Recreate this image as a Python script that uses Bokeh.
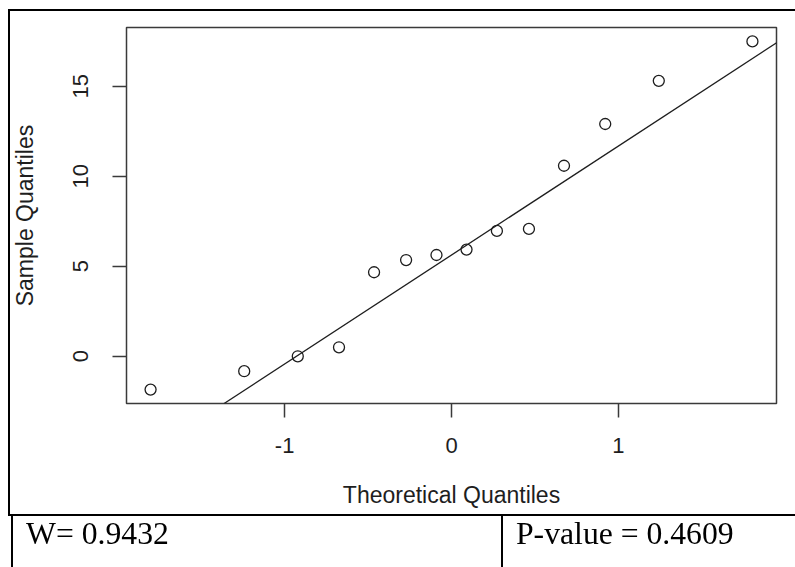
import numpy as np
from bokeh.plotting import figure
from bokeh.layouts import column
from bokeh.models import Range1d, FixedTicker, Slope, ColumnDataSource, Div
from bokeh.embed import file_html
from bokeh.resources import INLINE

# ---- data ----
theoretical = [-1.803, -1.242, -0.921, -0.674, -0.464, -0.272, -0.090,
               0.090, 0.272, 0.464, 0.674, 0.921, 1.242, 1.803]
sample = [-1.86, -0.84, -0.01, 0.49, 4.66, 5.34, 5.62,
          5.92, 6.96, 7.07, 10.58, 12.90, 15.30, 17.49]
x_ticks = [-1, 0, 1]
y_ticks = [0, 5, 10, 15]
x_label = "Theoretical Quantiles"
y_label = "Sample Quantiles"
w_text = "W= 0.9432"
p_text = "P-value = 0.4609"

# ---- derived: R-style qqline and 4% axis padding ----
q1, q3 = np.quantile(sample, [0.25, 0.75])
z = 0.6744897501960817
slope = (q3 - q1) / (2 * z)
intercept = q1 + slope * z

def padded(vals, f=0.04):
    lo, hi = min(vals), max(vals)
    d = (hi - lo) * f
    return lo - d, hi + d

xlo, xhi = padded(theoretical)
ylo, yhi = padded(sample)

INK = "#1e1e1e"
FRAME = "#3a3a3a"

p = figure(width=795, height=567, output_backend="svg", toolbar_location=None,
           x_range=Range1d(xlo, xhi), y_range=Range1d(ylo, yhi),
           min_border_left=126, min_border_right=19, min_border_top=27,
           min_border_bottom=164, margin=0)
p.background_fill_color = "white"
p.border_fill_color = "white"
p.outline_line_color = FRAME
p.outline_line_width = 1.5
p.xgrid.visible = False
p.ygrid.visible = False

for ax, ticks in ((p.xaxis[0], x_ticks), (p.yaxis[0], y_ticks)):
    ax.ticker = FixedTicker(ticks=ticks, minor_ticks=[])
    ax.major_label_overrides = {t: str(t) for t in ticks}
    ax.axis_line_color = None
    ax.major_tick_line_color = FRAME
    ax.major_tick_line_width = 1.5
    ax.major_tick_in = 0
    ax.major_tick_out = 14
    ax.minor_tick_out = 0
    ax.minor_tick_in = 0
    ax.major_label_text_font = "Liberation Sans"
    ax.major_label_text_font_size = "22px"
    ax.major_label_text_color = INK
    ax.axis_label_text_font = "Liberation Sans"
    ax.axis_label_text_font_size = "23px"
    ax.axis_label_text_font_style = "normal"
    ax.axis_label_text_color = INK

p.xaxis.axis_label = x_label
p.yaxis.axis_label = y_label
p.yaxis.major_label_orientation = "vertical"
p.xaxis.major_label_standoff = 20
p.yaxis.major_label_standoff = 24
p.xaxis.axis_label_standoff = 26
p.yaxis.axis_label_standoff = 33

src = ColumnDataSource(dict(x=theoretical, y=sample))
p.scatter(x="x", y="y", source=src, marker="circle", size=11,
          fill_color=None, line_color=INK, line_width=1.3)
p.add_layout(Slope(gradient=slope, y_intercept=intercept,
                   line_color=INK, line_width=1.3))

# ---- surrounding table, drawn as an HTML overlay in window pixels ----
def rule(l, t, w, h, color="black"):
    return (f'<div style="position:fixed;left:{l}px;top:{t}px;width:{w}px;'
            f'height:{h}px;background:{color};z-index:5;"></div>')

def cell_text(l, t, s):
    return (f'<div style="position:fixed;left:{l}px;top:{t}px;z-index:5;'
            "font-family:'Liberation Serif';font-size:31.7px;line-height:32px;"
            f'color:black;white-space:nowrap;">{s}</div>')

overlay_html = (
    rule(8, 9, 787, 2)        # top border
    + rule(8, 9, 2, 507)      # left border of the plot cell
    + rule(8, 514, 787, 2)    # row separator
    + rule(11, 514, 2, 53)    # left border of the lower row
    + rule(501, 514, 2, 53)   # column divider
    + rule(792, 11, 3, 503, "white")  # keep the right edge of the cell open
    + cell_text(26, 518, w_text)
    + cell_text(516, 518, p_text)
)
overlay = Div(text=overlay_html, width=795, height=567, margin=0,
              styles={"position": "fixed", "left": "0px", "top": "0px",
                      "z-index": "5"})

layout = column(p, overlay, spacing=0)

open("out.html", "w").write(file_html(layout, INLINE))
